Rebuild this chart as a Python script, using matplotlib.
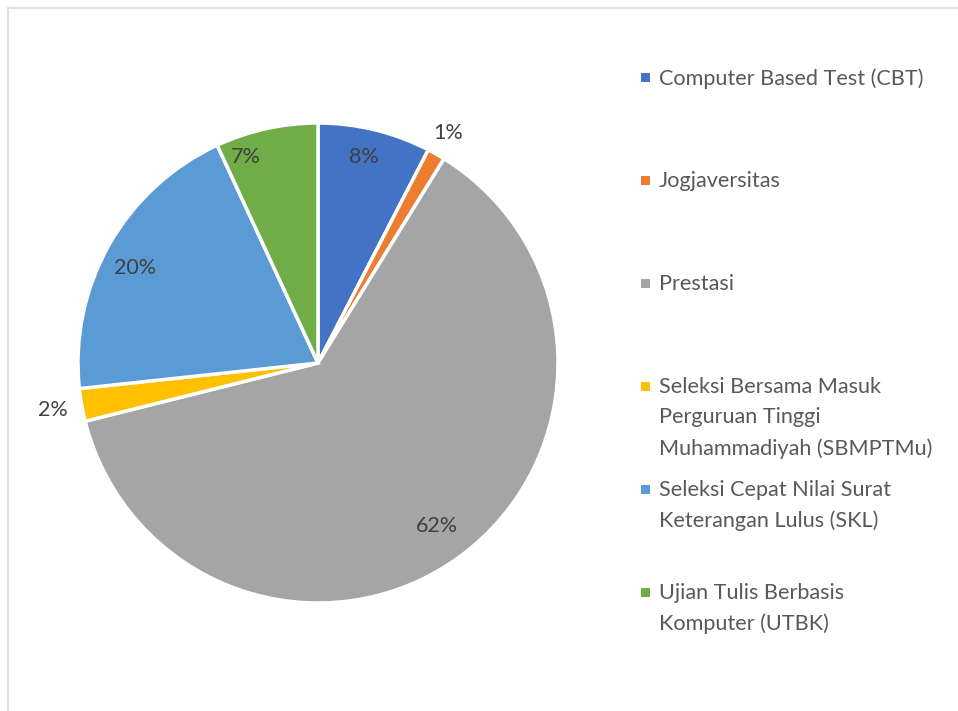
import matplotlib.pyplot as plt
from matplotlib.patches import Rectangle
from matplotlib.lines import Line2D
import numpy as np

# share of new students per admission path (%)
categories = ['Computer Based Test (CBT)', 'Jogjaversitas', 'Prestasi',
              'Seleksi Bersama Masuk Perguruan Tinggi Muhammadiyah (SBMPTMu)',
              'Seleksi Cepat Nilai Surat Keterangan Lulus (SKL)',
              'Ujian Tulis Berbasis Komputer (UTBK)']
legend_labels = ['Computer Based Test (CBT)', 'Jogjaversitas', 'Prestasi',
                 'Seleksi Bersama Masuk\nPerguruan Tinggi\nMuhammadiyah (SBMPTMu)',
                 'Seleksi Cepat Nilai Surat\nKeterangan Lulus (SKL)',
                 'Ujian Tulis Berbasis\nKomputer (UTBK)']
values = [7.6, 1.2, 62.3, 2.2, 19.8, 6.9]
colors = ['#4472C4', '#ED7D31', '#A5A5A5', '#FFC000', '#5B9BD5', '#70AD47']
# data-label placement: radial distance and angular nudge (deg)
label_dist = [0.88, 1.10, 0.84, 1.12, 0.86, 0.91]
label_nudge = [1, 0, 0, 0, 2, 7]

W, H = 958, 711
plt.rcParams['font.family'] = ['Lato', 'DejaVu Sans']
fig = plt.figure(figsize=(W / 100, H / 100), dpi=100)

# chart frame (only left/top visible)
fig.add_artist(Line2D([7.5 / W, 7.5 / W], [0, 1 - 8 / H], transform=fig.transFigure,
                      color='#d9d9d9', lw=1.2))
fig.add_artist(Line2D([7.5 / W, 1], [1 - 8 / H, 1 - 8 / H], transform=fig.transFigure,
                      color='#d9d9d9', lw=1.2))

cx, cy, r = 318, 363, 240
ax = fig.add_axes([(cx - r) / W, 1 - (cy + r) / H, 2 * r / W, 2 * r / H])
wedges, _ = ax.pie(values, colors=colors, startangle=90, counterclock=False,
                   radius=1, wedgeprops=dict(edgecolor='white', linewidth=2.5))
ax.set_xlim(-1, 1)
ax.set_ylim(-1, 1)
ax.set_aspect('equal')
ax.axis('off')

for w, v, d, n in zip(wedges, values, label_dist, label_nudge):
    ang = np.deg2rad((w.theta1 + w.theta2) / 2 + n)
    ax.text(d * np.cos(ang), d * np.sin(ang), f'{round(v):.0f}%',
            ha='center', va='center', fontsize=15.5, color='#404040')

# legend
y0, step = 77, 103
for i, (lab, c) in enumerate(zip(legend_labels, colors)):
    y = y0 + i * step
    fig.add_artist(Rectangle((641 / W, 1 - (y + 4.5) / H), 9 / W, 9 / H,
                             transform=fig.transFigure, color=c, lw=0))
    fig.text(659 / W, 1 - (y - 9) / H, lab, ha='left', va='top', fontsize=15.6,
             color='#595959', linespacing=1.65)

fig.savefig('out.png', dpi=100)
